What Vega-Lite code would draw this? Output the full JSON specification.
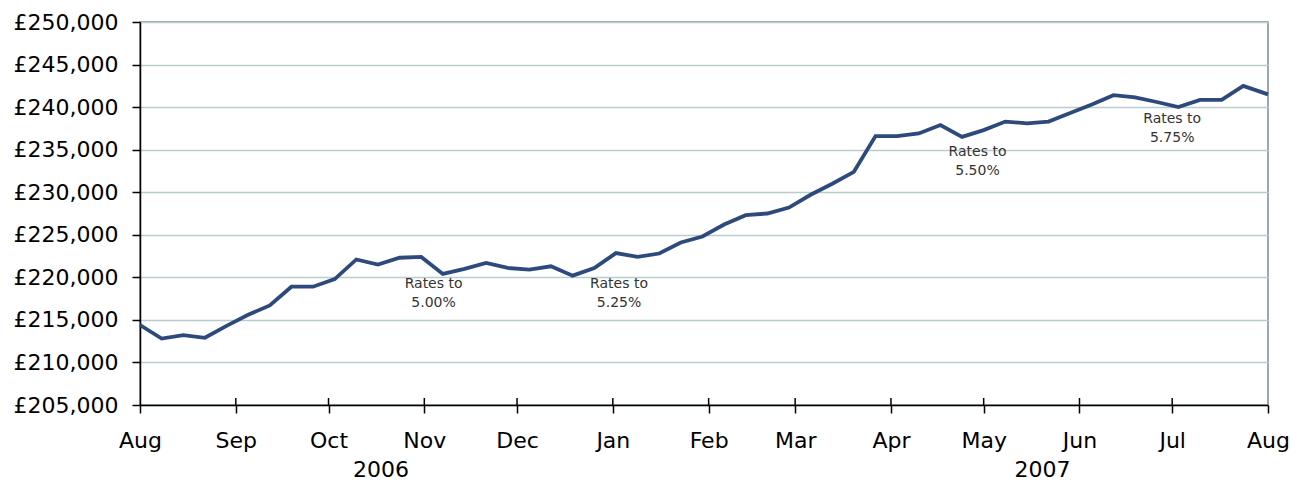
{
  "$schema": "https://vega.github.io/schema/vega-lite/v6.json",
  "width": 1128,
  "height": 383,
  "autosize": {"type": "none"},
  "padding": {"left": 140, "top": 22, "right": 32, "bottom": 77},
  "background": "white",
  "config": {
    "font": "DejaVu Sans",
    "view": {"stroke": "#7a8a96", "strokeWidth": 1.5}
  },
  "datasets": {
    "prices": [
      {"date": "2006-08-01", "price": 214400},
      {"date": "2006-08-08", "price": 212800},
      {"date": "2006-08-15", "price": 213200},
      {"date": "2006-08-22", "price": 212900},
      {"date": "2006-08-29", "price": 214300},
      {"date": "2006-09-05", "price": 215600},
      {"date": "2006-09-12", "price": 216700},
      {"date": "2006-09-19", "price": 218900},
      {"date": "2006-09-26", "price": 218900},
      {"date": "2006-10-03", "price": 219800},
      {"date": "2006-10-10", "price": 222100},
      {"date": "2006-10-17", "price": 221500},
      {"date": "2006-10-24", "price": 222300},
      {"date": "2006-10-31", "price": 222400},
      {"date": "2006-11-07", "price": 220400},
      {"date": "2006-11-14", "price": 221000},
      {"date": "2006-11-21", "price": 221700},
      {"date": "2006-11-28", "price": 221100},
      {"date": "2006-12-05", "price": 220900},
      {"date": "2006-12-12", "price": 221300},
      {"date": "2006-12-19", "price": 220200},
      {"date": "2006-12-26", "price": 221100},
      {"date": "2007-01-02", "price": 222850},
      {"date": "2007-01-09", "price": 222400},
      {"date": "2007-01-16", "price": 222800},
      {"date": "2007-01-23", "price": 224100},
      {"date": "2007-01-30", "price": 224800},
      {"date": "2007-02-06", "price": 226200},
      {"date": "2007-02-13", "price": 227300},
      {"date": "2007-02-20", "price": 227500},
      {"date": "2007-02-27", "price": 228200},
      {"date": "2007-03-06", "price": 229700},
      {"date": "2007-03-13", "price": 231000},
      {"date": "2007-03-20", "price": 232400},
      {"date": "2007-03-27", "price": 236600},
      {"date": "2007-04-03", "price": 236600},
      {"date": "2007-04-10", "price": 236900},
      {"date": "2007-04-17", "price": 237900},
      {"date": "2007-04-24", "price": 236500},
      {"date": "2007-05-01", "price": 237300},
      {"date": "2007-05-08", "price": 238300},
      {"date": "2007-05-15", "price": 238100},
      {"date": "2007-05-22", "price": 238300},
      {"date": "2007-05-29", "price": 239300},
      {"date": "2007-06-05", "price": 240300},
      {"date": "2007-06-12", "price": 241400},
      {"date": "2007-06-19", "price": 241150},
      {"date": "2007-06-26", "price": 240600},
      {"date": "2007-07-03", "price": 240000},
      {"date": "2007-07-10", "price": 240850},
      {"date": "2007-07-17", "price": 240850},
      {"date": "2007-07-24", "price": 242500},
      {"date": "2007-08-01", "price": 241500}
    ],
    "notes": [
      {"date": "2006-11-04", "price": 218750, "label": "Rates to\n5.00%"},
      {"date": "2007-01-03", "price": 218750, "label": "Rates to\n5.25%"},
      {"date": "2007-04-29", "price": 234250, "label": "Rates to\n5.50%"},
      {"date": "2007-07-01", "price": 238130, "label": "Rates to\n5.75%"}
    ],
    "years": [
      {"date": "2006-10-18", "price": 196540, "label": "2006"},
      {"date": "2007-05-20", "price": 196540, "label": "2007"}
    ],
    "months": [
      {"date": "2006-09-01", "low": 205000, "high": 205820},
      {"date": "2006-10-01", "low": 205000, "high": 205820},
      {"date": "2006-11-01", "low": 205000, "high": 205820},
      {"date": "2006-12-01", "low": 205000, "high": 205820},
      {"date": "2007-01-01", "low": 205000, "high": 205820},
      {"date": "2007-02-01", "low": 205000, "high": 205820},
      {"date": "2007-03-01", "low": 205000, "high": 205820},
      {"date": "2007-04-01", "low": 205000, "high": 205820},
      {"date": "2007-05-01", "low": 205000, "high": 205820},
      {"date": "2007-06-01", "low": 205000, "high": 205820},
      {"date": "2007-07-01", "low": 205000, "high": 205820}
    ]
  },
  "layer": [
    {
      "data": {"name": "months"},
      "mark": {"type": "rule", "color": "#000000", "strokeWidth": 1.5},
      "encoding": {
        "x": {"field": "date", "type": "temporal"},
        "y": {"field": "low", "type": "quantitative"},
        "y2": {"field": "high"}
      }
    },
    {
      "data": {"name": "prices"},
      "mark": {"type": "line", "color": "#2e4a7d", "strokeWidth": 3.8, "strokeJoin": "miter"},
      "encoding": {
        "x": {
          "field": "date", "type": "temporal",
          "scale": {"type": "utc", "domain": [{"year": 2006, "month": 8, "date": 1, "utc": true}, {"year": 2007, "month": 8, "date": 1, "utc": true}]},
          "axis": {
            "title": null,
            "values": [
              {"year": 2006, "month": 8, "date": 1, "utc": true},
              {"year": 2006, "month": 9, "date": 1, "utc": true},
              {"year": 2006, "month": 10, "date": 1, "utc": true},
              {"year": 2006, "month": 11, "date": 1, "utc": true},
              {"year": 2006, "month": 12, "date": 1, "utc": true},
              {"year": 2007, "month": 1, "date": 1, "utc": true},
              {"year": 2007, "month": 2, "date": 1, "utc": true},
              {"year": 2007, "month": 3, "date": 1, "utc": true},
              {"year": 2007, "month": 4, "date": 1, "utc": true},
              {"year": 2007, "month": 5, "date": 1, "utc": true},
              {"year": 2007, "month": 6, "date": 1, "utc": true},
              {"year": 2007, "month": 7, "date": 1, "utc": true},
              {"year": 2007, "month": 8, "date": 1, "utc": true}
            ],
            "format": "%b",
            "grid": false,
            "domainColor": "#000000",
            "domainWidth": 1.5,
            "tickColor": "#000000",
            "tickWidth": 1.5,
            "tickSize": 8,
            "labelFontSize": 22,
            "labelColor": "#000000",
            "labelPadding": 17,
            "labelFlush": false,
            "labelOverlap": false
          }
        },
        "y": {
          "field": "price", "type": "quantitative",
          "scale": {"domain": [205000, 250000], "nice": false, "zero": false},
          "axis": {
            "title": null,
            "values": [205000, 210000, 215000, 220000, 225000, 230000, 235000, 240000, 245000, 250000],
            "labelExpr": "'£' + format(datum.value, ',')",
            "grid": true,
            "gridColor": "#b7cdce",
            "gridWidth": 1.5,
            "domainColor": "#000000",
            "domainWidth": 1.5,
            "tickColor": "#000000",
            "tickWidth": 1.5,
            "tickSize": 8,
            "labelFontSize": 22,
            "labelColor": "#000000",
            "labelPadding": 14,
            "labelOverlap": false
          }
        }
      }
    },
    {
      "data": {"name": "notes"},
      "mark": {"type": "text", "fontSize": 14, "color": "#333333", "align": "center", "baseline": "alphabetic", "lineBreak": "\n", "lineHeight": 19},
      "encoding": {
        "x": {"field": "date", "type": "temporal"},
        "y": {"field": "price", "type": "quantitative"},
        "text": {"field": "label"}
      }
    },
    {
      "data": {"name": "years"},
      "mark": {"type": "text", "fontSize": 22, "color": "#000000", "align": "center", "baseline": "alphabetic", "clip": false},
      "encoding": {
        "x": {"field": "date", "type": "temporal"},
        "y": {"field": "price", "type": "quantitative"},
        "text": {"field": "label"}
      }
    }
  ]
}
